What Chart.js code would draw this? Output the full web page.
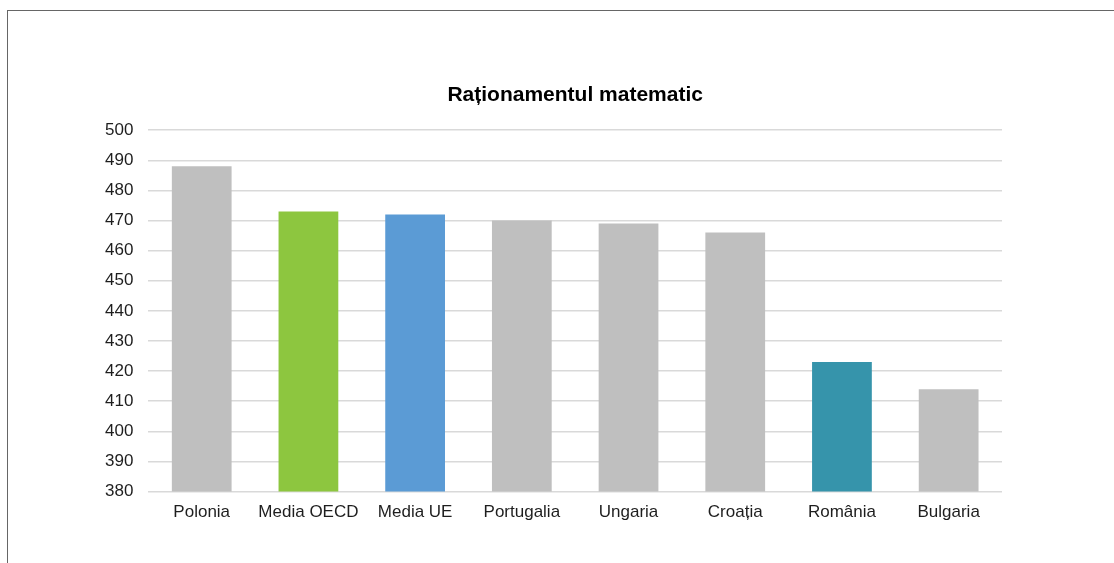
<!DOCTYPE html>
<html lang="ro">
<head>
<meta charset="utf-8">
<title>Raționamentul matematic</title>
<script src="https://cdn.jsdelivr.net/npm/chart.js@4/dist/chart.umd.min.js"></script>
<style>
    html, body { margin: 0; padding: 0; background: #fff; overflow: hidden; }
    .cadru {
        position: absolute;
        left: 7px;
        top: 10px;
        width: 2000px;
        height: 2000px;
        border-left: 1px solid #666;
        border-top: 1px solid #666;
    }
    #grafic { position: absolute; left: 0; top: 0; }
</style>
</head>
<body>
<div class="cadru"></div>
<canvas id="grafic" width="1114" height="563"></canvas>
<script>
const titlu = "Raționamentul matematic";
const categorii = ["Polonia", "Media OECD", "Media UE", "Portugalia", "Ungaria", "Croația", "România", "Bulgaria"];
const valori = [488, 473, 472, 470, 469, 466, 423, 414];
const axaMin = 380;
const axaMax = 500;
const pas = 10;

const GRI = "#BFBFBF";
const culori = [GRI, "#8DC63F", "#5B9BD5", GRI, GRI, GRI, "#3694AB", GRI];

Chart.defaults.font.family = "'Liberation Sans', Arial, sans-serif";
Chart.defaults.color = "#1e1e1e";

const ctx = document.getElementById("grafic").getContext("2d");
window.grafic = new Chart(ctx, {
    type: "bar",
    data: {
        labels: categorii,
        datasets: [{
            data: valori,
            backgroundColor: culori,
            borderWidth: 0,
            categoryPercentage: 1,
            barPercentage: 0.56
        }]
    },
    options: {
        responsive: false,
        animation: false,
        layout: {
            padding: { top: 83, left: 90, right: 112, bottom: 37 }
        },
        plugins: {
            legend: { display: false },
            tooltip: { enabled: false },
            title: {
                display: true,
                text: titlu,
                fullSize: false,
                color: "#000",
                font: { size: 21, weight: "bold" },
                padding: { top: 0, bottom: 22 }
            }
        },
        scales: {
            x: {
                grid: { display: false },
                border: { display: false },
                ticks: {
                    padding: 3,
                    font: { size: 17 },
                    maxRotation: 0,
                    autoSkip: false
                }
            },
            y: {
                min: axaMin,
                max: axaMax,
                grid: {
                    color: "#D9D9D9",
                    lineWidth: 1.5,
                    drawTicks: false
                },
                border: { display: false },
                ticks: {
                    stepSize: pas,
                    padding: 15,
                    font: { size: 17 }
                }
            }
        }
    }
});
</script>
</body>
</html>
